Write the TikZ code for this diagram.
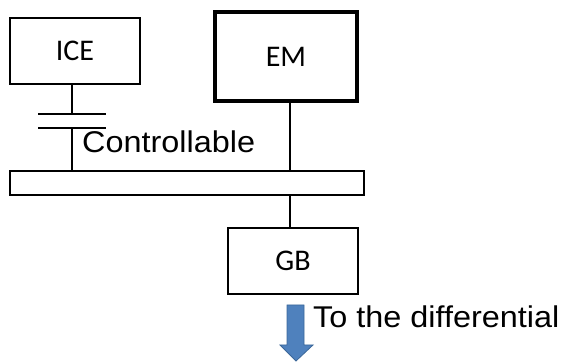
\documentclass[tikz,border=0pt]{standalone}
\usepackage{fontspec}
\setmainfont{Liberation Sans}
\newfontfamily\carl{Carlito}
\definecolor{arrowblue}{HTML}{4F81BD}
\definecolor{arrowedge}{HTML}{3B6799}
\begin{document}
\begin{tikzpicture}[x=1pt,y=-1pt,
  box/.style={draw=black,line width=2pt,minimum width=#1,inner sep=0pt,text height=20pt,text depth=-2pt,font=\carl\fontsize{30}{32}\selectfont},
  shaft/.style={line width=2pt},
  lbl/.style={inner sep=0pt,anchor=base west,font=\fontsize{30}{32}\selectfont}]
\useasboundingbox (0,0) rectangle (566,363);
\node[box=130pt,minimum height=66pt] (ice) at (75,51) {ICE};
\node[box=142pt,minimum height=89pt,line width=4pt] (em) at (286,57) {EM};
\node[box=354pt,minimum height=24pt,text height=0pt,text depth=0pt] (bar) at (187,183) {};
\node[box=130pt,minimum height=66pt] (gb) at (293,261) {GB};
% clutch
\coordinate (c1) at (72,114);
\coordinate (c2) at (72,128);
\draw[shaft] (ice.south -| c1) -- (c1);
\draw[shaft] ([xshift=-34pt]c1) -- ([xshift=34pt]c1);
\draw[shaft] ([xshift=-34pt]c2) -- ([xshift=34pt]c2);
\draw[shaft] (c2) -- (bar.north -| c2);
\node[lbl] (ctl) at (82,153) {\scalebox{1.08}[1]{Controllable}};
% EM shaft
\coordinate (s) at (290,0);
\draw[shaft] (em.south -| s) -- (bar.north -| s);
\draw[shaft] (bar.south -| s) -- (gb.north -| s);
% arrow
\draw[fill=arrowblue,draw=arrowedge,line width=0.8pt,line join=miter]
  (287,305) -- (304,305) -- (304,345) -- (313,345) -- (296,361) -- (280,345) -- (287,345) -- cycle;
\node[lbl] (diff) at (313,328) {\scalebox{1.08}[1]{To the differential}};
\end{tikzpicture}
\end{document}
